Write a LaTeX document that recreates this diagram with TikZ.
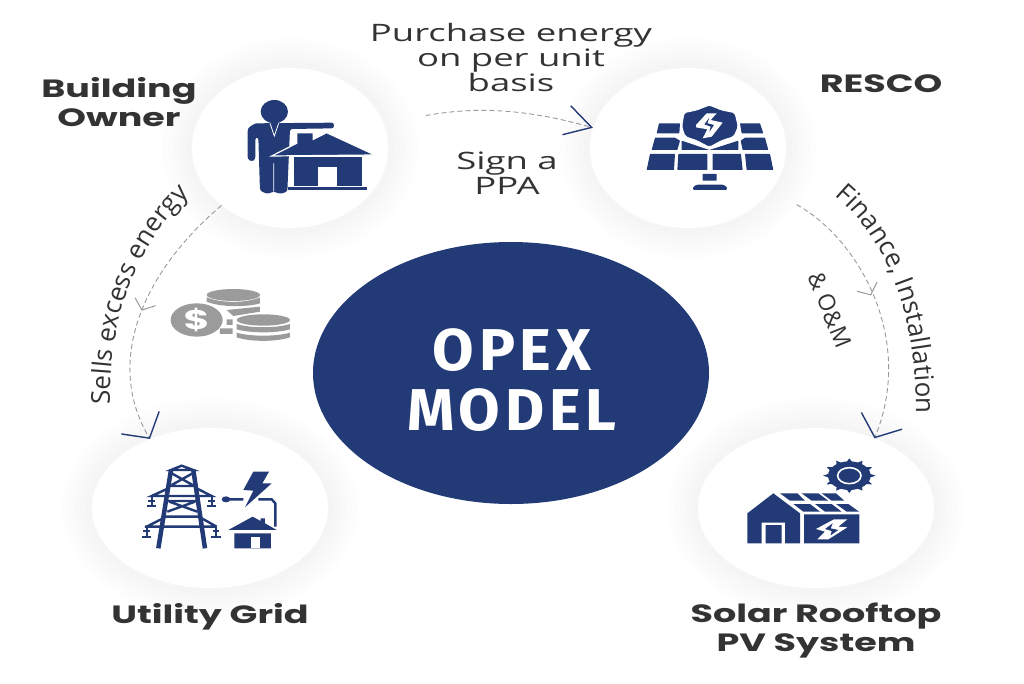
\documentclass[tikz,border=0pt]{standalone}
\usepackage{fontspec}
\usepackage{xcolor}
\usetikzlibrary{arrows.meta,decorations.text,decorations.markings,shapes.geometric}
\newfontfamily\headfont[FakeStretch=1.46]{Poppins}
\newfontfamily\notefont[FakeStretch=1.52]{Open Sans}
\newfontfamily\curvefont{Open Sans}
\newfontfamily\opexfont[FakeStretch=1.02,LetterSpace=8]{Fira Sans}
\definecolor{opexblue}{HTML}{223A76}
\definecolor{coingray}{HTML}{9B9B9B}
\tikzset{
  roundel/.style={ellipse, fill=white, inner sep=0pt, minimum width=#1, minimum height=160pt},
  head/.style={font=\headfont\bfseries\fontsize{25}{29}\selectfont, text=black!80, align=center},
  note/.style={font=\notefont\fontsize{24}{25}\selectfont, text=black!80, align=center},
  flow/.style={gray!80, dash pattern=on 5pt off 3pt, line width=0.9pt},
  bluetip/.style 2 args={-{Straight Barb[length=#1,width=#2,line width=1.4pt,opexblue]}},
  graytip/.style={postaction={decorate}, decoration={markings, mark=at position #1 with {\arrow{Straight Barb[length=9pt,width=22pt,gray!80,line width=1pt]}}}},
  curved/.style={decorate, decoration={text along path, text color=black!80, text align=center, text={|\curvefont\fontsize{26}{27}\selectfont|#1}}},
  zoomed/.style={shift={(#1)}, x=0.3333pt, y=-0.3333pt},
}
\begin{document}
\begin{tikzpicture}[x=1pt, y=-1pt]
\useasboundingbox (0,0) rectangle (1024,683);
% halos
\foreach \cx/\cy/\rx in {290/148/98,688/148/98,210/508/118,816/508/118}{
  \foreach \g in {30,24,...,6}{
    \fill[black, opacity=0.009] (\cx,\cy) ellipse ({\rx+\g} and {80+\g});
  }
}
% circles
\node[roundel=196pt] (owner) at (290,148) {};
\node[roundel=196pt] (resco) at (688,148) {};
\node[roundel=236pt] (grid) at (210,508) {};
\node[roundel=236pt] (rooftop) at (816,508) {};
\node[ellipse, fill=opexblue, minimum width=396pt, minimum height=262pt, inner sep=0pt] (opex) at (511,373) {};
\node[text=white, align=center, font=\opexfont\bfseries\fontsize{59}{60}\selectfont] (opextext) at (512,380) {OPEX\\MODEL};
% connectors
\draw[flow, bluetip={26pt}{30pt}, shorten <=43pt] (owner.15) to[out=10, in=164] (resco.168);
\draw[flow, bluetip={18pt}{44pt}, graytip=0.5] (owner.-140) .. controls (145,270) and (103,360) .. (grid.131);
\draw[flow, bluetip={18pt}{44pt}, graytip=0.5, shorten <=29pt] (resco.-27) .. controls (860,240) and (915,340) .. (rooftop.50);
% labels
\node[head] (ownerlabel) at (119,102) {Building\\Owner};
\node[head] (rescolabel) at (881,84) {RESCO};
\node[head] (gridlabel) at (210,617) {Utility Grid};
\node[head] (rooftoplabel) at (816,630) {Solar Rooftop\\PV System};
\node[note] (purchase) at (511,57) {Purchase energy\\on per unit\\basis};
\node[note] (ppa) at (507,173) {Sign a\\PPA};
\node[font=\curvefont\fontsize{23}{25}\selectfont, text=black!80, rotate=-68] (om) at (830,310) {\& O\&M};
\path[curved={Sells excess energy}] (110,408) .. controls (108,330) and (130,250) .. (192,192);
\path[curved={Finance, Installation}] (828,190) .. controls (882,231) and (918,306) .. (916,422);
% building owner icon
\begin{scope}[zoomed={180,60}]
\fill[opexblue] (283,155) ellipse (41 and 35);
\fill[opexblue, rounded corners=2.5pt] (203,298) -- (203,205) -- (225,190) -- (462,188) -- (462,205) -- (330,207) -- (322,395) -- (300,402) -- (283,395) -- (280,395) -- (262,402) -- (240,392) -- (235,232) -- (226,232) -- (226,298) -- (215,305) -- cycle;
\draw[white, line width=0.8pt] (270,190) -- (283,228) -- (296,190) (281,310) -- (281,395);
\fill[opexblue, draw=white, line width=1.2pt] (275,288) -- (350,250) -- (350,218) -- (400,218) -- (400,238) -- (440,218) -- (585,285) -- cycle;
\fill[opexblue, draw=white, line width=0.8pt] (340,288) rectangle (548,378);
\fill[white] (413,322) rectangle (472,378);
\fill[opexblue] (325,382) rectangle (562,391);
\end{scope}
% resco icon
\begin{scope}[zoomed={590,70}]
\fill[opexblue, rounded corners=0.5pt] (207,160) -- (270,160) -- (268,190) -- (200,190) -- cycle
  (450,160) -- (510,160) -- (520,190) -- (455,190) -- cycle
  (195,203) -- (255,203) -- (270,212) -- (262,240) -- (185,240) -- cycle
  (275,212) -- (358,240) -- (445,212) -- (445,240) -- (275,240) -- cycle
  (452,212) -- (465,203) -- (525,203) -- (535,240) -- (458,240) -- cycle
  (180,252) -- (255,252) -- (252,300) -- (170,300) -- cycle
  (265,252) -- (352,252) -- (352,300) -- (262,300) -- cycle
  (368,252) -- (453,252) -- (458,300) -- (368,300) -- cycle
  (465,252) -- (540,252) -- (550,300) -- (470,300) -- cycle
  (338,312) rectangle (380,332);
\fill[opexblue, rounded corners=3pt] (305,360) -- (315,344) -- (405,344) -- (415,360) -- cycle;
\fill[opexblue, draw=white, line width=1pt, rounded corners=2pt] (358,105) -- (395,120) -- (435,128) -- (445,170) -- (432,200) -- (395,212) -- (358,232) -- (320,212) -- (285,200) -- (275,170) -- (282,128) -- (320,120) -- cycle;
\fill[white] (318,165) -- (350,130) -- (380,130) -- (362,150) -- (398,158) -- (365,200) -- (338,205) -- (352,178) -- (318,172) -- cycle;
\fill[opexblue] (343,163) -- (358,143) -- (352,160) -- (372,165) -- (358,186) -- (362,170) -- cycle;
\end{scope}
% utility grid icon
\begin{scope}[zoomed={90,420}]
\draw[opexblue, line width=4.5pt] (243,150) -- (205,385) (310,150) -- (345,385);
\draw[opexblue, line width=2.4pt] (243,150) -- (275,137) -- (310,150) -- cycle
  (245,160) -- (308,195) (308,160) -- (245,195) (235,198) -- (320,198)
  (232,243) -- (320,243) (238,245) -- (322,275) (315,245) -- (232,275) (225,290) -- (330,290)
  (165,320) -- (380,320)
  (235,205) -- (185,228) -- (365,228) -- (320,205)
  (225,292) -- (170,320) (330,292) -- (380,320)
  (405,238) -- (460,238) (505,238) -- (545,238) -- (556,250) -- (556,320);
\foreach \ix/\iy in {185/228,365/228,170/320,378/320}{
  \draw[opexblue, line width=2.2pt] (\ix,\iy) -- (\ix,{\iy+30}) ({\ix-10},{\iy+14}) -- ({\ix+10},{\iy+14}) ({\ix-14},{\iy+30}) -- ({\ix+14},{\iy+30});
}
\fill[opexblue] (408,238) ellipse (13 and 9);
\fill[opexblue] (490,155) -- (537,155) -- (517,190) -- (545,190) -- (465,262) -- (490,212) -- (460,210) -- cycle;
\fill[opexblue] (415,330) -- (488,290) -- (512,303) -- (512,295) -- (525,295) -- (525,310) -- (560,330) -- cycle (433,340) rectangle (543,385);
\fill[white] (483,352) rectangle (510,385);
\end{scope}
% rooftop icon
\begin{scope}[zoomed={710,430}]
\foreach \a in {0,30,...,330}{
  \fill[opexblue] ({418+60*cos(\a-9)},{137+40*sin(\a-9)}) -- ({418+79*cos(\a)},{137+52*sin(\a)}) -- ({418+60*cos(\a+9)},{137+40*sin(\a+9)}) -- cycle;
}
\fill[opexblue] (418,137) ellipse (64 and 43);
\draw[white, line width=1.6pt] (418,137) ellipse (35 and 24);
\fill[opexblue] (112,340) -- (112,250) -- (190,190) -- (270,250) -- (270,340) -- (225,340) -- (225,278) -- (155,278) -- (155,340) -- cycle;
\fill[opexblue] (167,285) rectangle (215,340) (282,253) -- (448,253) -- (448,340) -- (282,340) -- cycle;
\fill[white] (318,297) -- (372,268) -- (412,268) -- (385,290) -- (412,292) -- (355,328) -- (322,328) -- (345,305) -- cycle;
\fill[opexblue] (345,297) -- (368,280) -- (362,295) -- (385,300) -- (362,316) -- (365,303) -- cycle;
\fill[opexblue] (210,190) -- (262,190) -- (285,212) -- (240,212) -- cycle
  (275,190) -- (325,190) -- (355,212) -- (305,212) -- cycle
  (335,190) -- (378,190) -- (403,212) -- (365,212) -- cycle
  (250,222) -- (300,222) -- (330,245) -- (280,245) -- cycle
  (315,222) -- (365,222) -- (395,245) -- (345,245) -- cycle
  (378,222) -- (415,222) -- (447,245) -- (410,245) -- cycle;
\end{scope}
% coins
\begin{scope}[zoomed={80,190}]
\fill[coingray] (460,315) ellipse (80 and 18);
\fill[coingray] (380,322) .. controls (420,340) and (500,340) .. (540,322) -- (540,340) .. controls (500,352) and (420,352) .. (380,335) -- cycle;
\fill[coingray] (440,360) -- (540,350) -- (540,365) -- (460,378) -- cycle (420,415) rectangle (458,432) (440,388) rectangle (458,405);
\fill[coingray] (550,390) ellipse (80 and 17);
\fill[coingray] (470,402) .. controls (510,415) and (590,415) .. (630,402) -- (630,418) .. controls (590,430) and (510,430) .. (470,418) -- cycle;
\fill[coingray] (470,428) .. controls (510,440) and (590,440) .. (630,428) -- (630,442) .. controls (590,456) and (510,456) .. (470,442) -- cycle;
\fill[coingray] (350,390) ellipse (78 and 50);
\node[text=white, font=\headfont\bfseries\fontsize{27}{27}\selectfont, inner sep=0pt] (dollar) at (350,390) {\$};
\end{scope}
\end{tikzpicture}
\end{document}
